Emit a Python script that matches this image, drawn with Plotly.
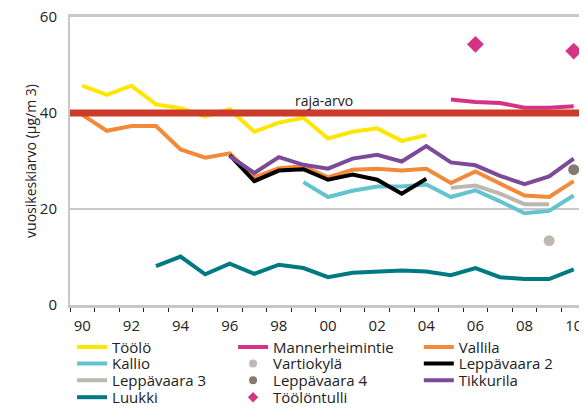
import plotly.graph_objects as go

YEARS = [str(y) for y in range(1990, 2011)]
TICK_TEXT = [y[2:] if int(y) % 2 == 0 else "" for y in YEARS]
N = None

toolo = [45.7, 43.8, 45.7, 41.8, 41.0, 39.3, 40.8, 36.1, 38.0, 39.0, 34.7, 36.1, 36.8, 34.2, 35.4, N, N, N, N, N, N]
mannerheimintie = [N] * 15 + [42.8, 42.3, 42.1, 41.1, 41.1, 41.4]
vallila = [39.6, 36.3, 37.3, 37.3, 32.4, 30.7, 31.6, 26.6, 28.5, 28.9, 26.6, 28.2, 28.4, 28.0, 28.4, 25.4, 27.8, 25.4, 22.8, 22.5, 25.8]
kallio = [N] * 9 + [25.6, 22.5, 23.8, 24.7, 24.7, 25.1, 22.5, 23.9, 21.6, 19.1, 19.6, 22.8]
vartiokyla = [N] * 19 + [13.4, N]
leppavaara2 = [N] * 6 + [31.2, 25.8, 28.0, 28.3, 26.1, 27.2, 26.1, 23.2, 26.3] + [N] * 6
leppavaara3 = [N] * 15 + [24.4, 24.9, 23.2, 21.0, 21.0, N]
leppavaara4 = [N] * 20 + [28.2]
tikkurila = [N] * 6 + [31.0, 27.5, 30.8, 29.2, 28.4, 30.5, 31.3, 29.9, 33.1, 29.7, 29.1, 26.9, 25.2, 26.8, 30.5]
luukki = [N] * 3 + [8.1, 10.1, 6.4, 8.6, 6.5, 8.4, 7.7, 5.8, 6.7, 6.9, 7.2, 7.0, 6.2, 7.7, 5.8, 5.4, 5.4, 7.4]
toolontulli = [N] * 16 + [54.3, N, N, N, 52.9]

LIMIT = 40
LIMIT_LABEL = "raja-arvo"
Y_TICKS = [0, 20, 40, 60]

FONT = "Open Sans"
TXT = "#222222"

# series in legend (row-major) order: name, values, colour, kind
SERIES = [
    ("Töölö", toolo, "#FFE600", "line"),
    ("Mannerheimintie", mannerheimintie, "#D63384", "line"),
    ("Vallila", vallila, "#F28A3A", "line"),
    ("Kallio", kallio, "#63C3CF", "line"),
    ("Vartiokylä", vartiokyla, "#BFB8B1", "circle"),
    ("Leppävaara 2", leppavaara2, "#000000", "line"),
    ("Leppävaara 3", leppavaara3, "#BDB7B0", "line"),
    ("Leppävaara 4", leppavaara4, "#857A6F", "circle"),
    ("Tikkurila", tikkurila, "#7C4A98", "line"),
    ("Luukki", luukki, "#007A82", "line"),
    ("Töölöntulli", toolontulli, "#D63384", "diamond"),
]

COL_X = [0.004, 0.316, 0.676]
ROW_Y = [-0.147, -0.204, -0.262, -0.321]

fig = go.Figure()
legends = {}
for i, (name, vals, color, kind) in enumerate(SERIES):
    key = "legend" if i == 0 else f"legend{i + 1}"
    legends[key] = dict(x=COL_X[i % 3], y=ROW_Y[i // 3], xanchor="left", yanchor="middle",
                        orientation="v", bgcolor="rgba(0,0,0,0)",
                        font=dict(family=FONT, size=15, color=TXT))
    if kind == "line":
        fig.add_trace(go.Scatter(x=YEARS, y=vals, name=name, mode="lines",
                                 line=dict(color=color, width=4), connectgaps=False,
                                 legend=key))
    else:
        size = 13 if kind == "diamond" else 11
        fig.add_trace(go.Scatter(x=YEARS, y=vals, name=name, mode="markers",
                                 marker=dict(color=color, symbol=kind, size=size),
                                 showlegend=False))
        # legend entry with a smaller symbol, as in the reference
        fig.add_trace(go.Scatter(x=[None], y=[None], name=name, mode="markers",
                                 marker=dict(color=color, symbol=kind, size=8),
                                 legend=key))

fig.add_shape(type="line", xref="paper", x0=0, x1=1, yref="y", y0=LIMIT, y1=LIMIT,
              line=dict(color="#CC3A2C", width=7), layer="above")
fig.add_annotation(text=LIMIT_LABEL, xref="paper", x=0.492, yref="y", y=LIMIT,
                   yanchor="bottom", yshift=1, showarrow=False,
                   font=dict(family=FONT, size=14, color=TXT))

# page body has an 8px default margin, so the figure is drawn 8px smaller
fig.update_layout(
    width=579, height=402,
    margin=dict(l=62, r=1, t=9, b=105, autoexpand=False),
    paper_bgcolor="white", plot_bgcolor="white",
    font=dict(family=FONT, color=TXT),
    **legends,
    xaxis=dict(type="category", categoryorder="array", categoryarray=YEARS,
               tickmode="array", tickvals=YEARS, ticktext=TICK_TEXT, tickangle=0,
               tickson="boundaries", ticks="outside", ticklen=4, tickcolor="#222",
               tickwidth=1, showline=True, linecolor="#C8C8C8", linewidth=2.5,
               mirror=True, showgrid=False, automargin=False, ticklabelstandoff=5,
               tickfont=dict(family=FONT, size=15, color=TXT),
               range=[-0.5, 20.5]),
    yaxis=dict(range=[0, 60], tickvals=Y_TICKS, showgrid=True, gridcolor="#C8C8C8",
               gridwidth=2, zeroline=False, showline=True, linecolor="#C8C8C8",
               linewidth=2, mirror=True, ticks="", ticklabelstandoff=8, automargin=False,
               ticklabeloverflow="allow",
               tickfont=dict(family=FONT, size=15, color=TXT),
               title=dict(text="vuosikeskiarvo (µg/m 3)", standoff=0,
                          font=dict(family=FONT, size=14, color=TXT))),
)

fig.write_html("out.html")
